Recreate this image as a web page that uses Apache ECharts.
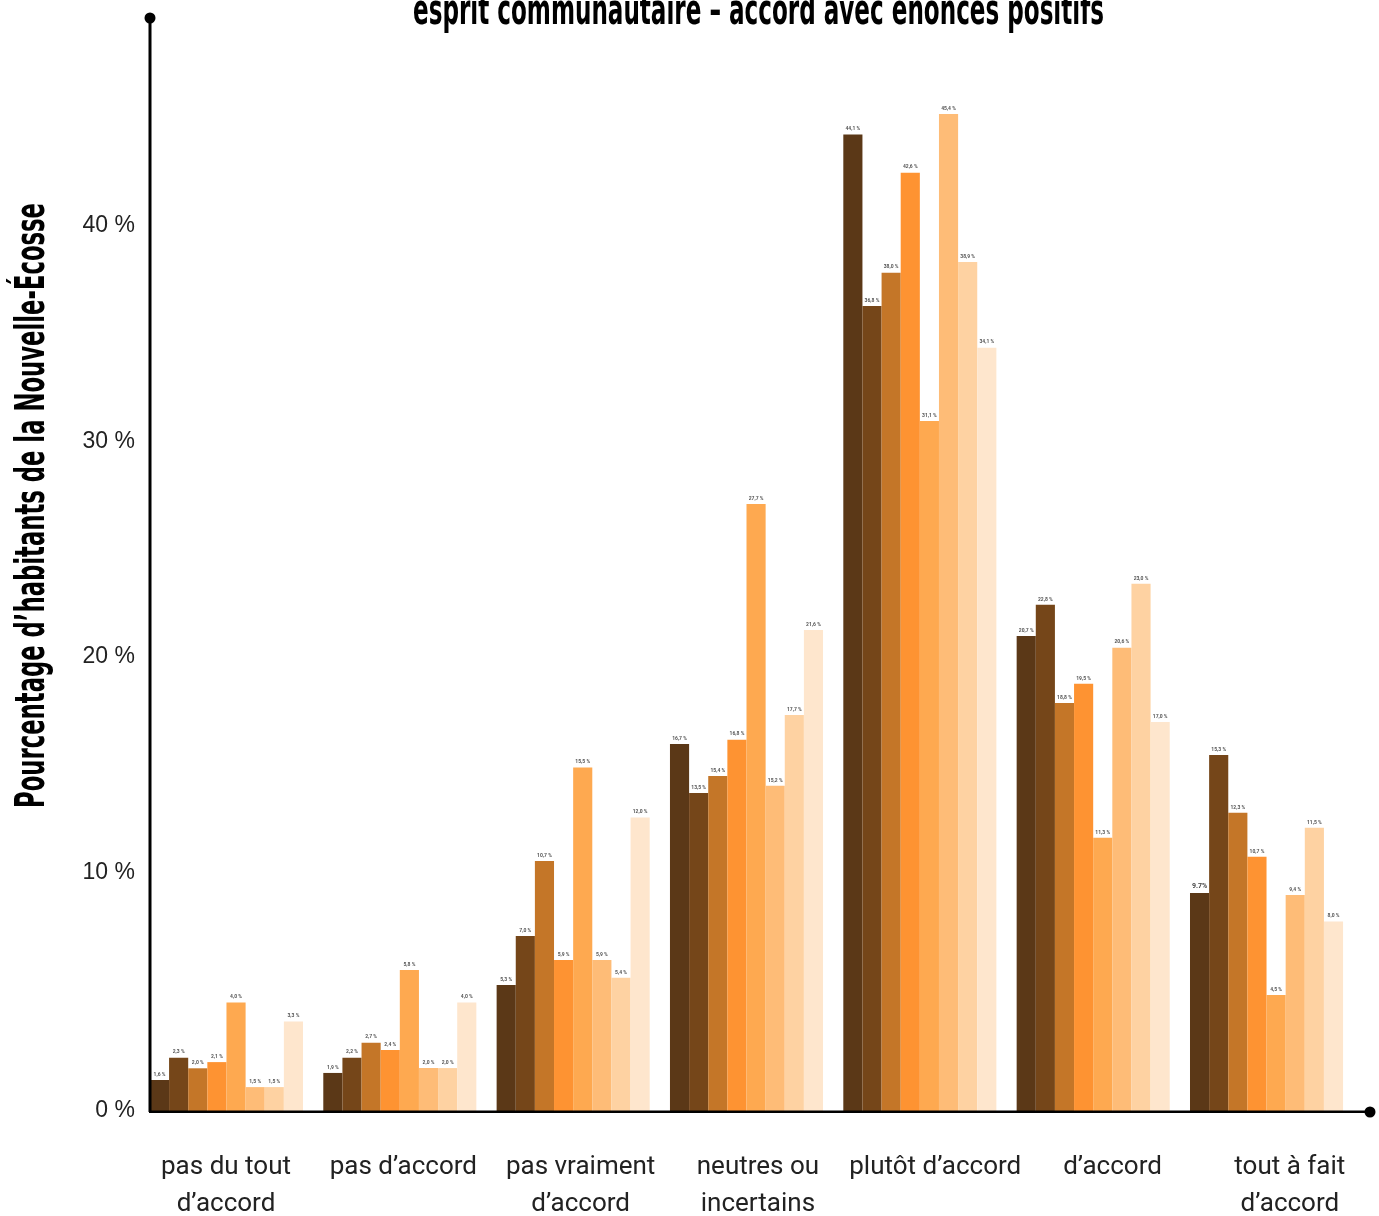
<!DOCTYPE html>
<html><head><meta charset="utf-8">
<script src="https://cdn.jsdelivr.net/npm/echarts@6/dist/echarts.min.js"></script>
<style>html,body{margin:0;padding:0;background:#fff}#c{width:1379px;height:1216px}</style>
</head><body><div id="c"></div>
<script>
// ---------- data ----------
const categories = ['pas du tout\nd’accord', 'pas d’accord', 'pas vraiment\nd’accord', 'neutres ou\nincertains', 'plutôt d’accord', 'd’accord', 'tout à fait\nd’accord'];
const seriesNames = ['Énoncé 1', 'Énoncé 2', 'Énoncé 3', 'Énoncé 4', 'Énoncé 5', 'Énoncé 6', 'Énoncé 7', 'Énoncé 8'];

// bar heights
const s1 = [1.40, 1.72, 5.69, 16.59, 44.13, 21.47, 9.85];
const s2 = [2.41, 2.41, 7.91, 14.37, 36.38, 22.88, 16.09];
const s3 = [1.93, 3.09, 11.30, 15.14, 37.89, 18.44, 13.48];
const s4 = [2.21, 2.76, 6.82, 16.78, 42.41, 19.31, 11.49];
const s5 = [4.90, 6.37, 15.52, 27.44, 31.19, 12.35, 5.24];
const s6 = [1.08, 1.94, 6.82, 14.70, 45.06, 20.94, 9.76];
const s7 = [1.08, 1.94, 6.02, 17.90, 38.37, 23.83, 12.80];
const s8 = [4.04, 4.90, 13.26, 21.74, 34.50, 17.58, 8.56];

// printed value labels
const l1 = ['1,6 %', '1,9 %', '5,3 %', '16,7 %', '44,1 %', '20,7 %', '9.7%'];
const l2 = ['2,3 %', '2,2 %', '7,0 %', '13,5 %', '36,8 %', '22,8 %', '15,3 %'];
const l3 = ['2,0 %', '2,7 %', '10,7 %', '15,4 %', '38,0 %', '18,8 %', '12,3 %'];
const l4 = ['2,1 %', '2,4 %', '5,9 %', '16,8 %', '42,6 %', '19,5 %', '10,7 %'];
const l5 = ['4,0 %', '5,8 %', '15,5 %', '27,7 %', '31,1 %', '11,3 %', '4,5 %'];
const l6 = ['1,5 %', '2,0 %', '5,9 %', '15,2 %', '45,4 %', '20,6 %', '9,4 %'];
const l7 = ['1,5 %', '2,0 %', '5,4 %', '17,7 %', '38,9 %', '23,0 %', '11,5 %'];
const l8 = ['3,3 %', '4,0 %', '12,0 %', '21,6 %', '34,1 %', '17,0 %', '8,0 %'];

const yTickValues = [0, 10, 20, 30, 40];
const yTickLabels = ['0 %', '10 %', '20 %', '30 %', '40 %'];
const titleText = 'esprit communautaire – accord avec énoncés positifs';
const yTitleText = 'Pourcentage d’habitants de la Nouvelle-Écosse';

// ---------- style ----------
const colors = ['#5b3817', '#754619', '#c47628', '#fe9332', '#fea950', '#febc77', '#fed2a2', '#fee6cd'];
const allValues = [s1, s2, s3, s4, s5, s6, s7, s8];
const allLabels = [l1, l2, l3, l4, l5, l6, l7, l8];

function measure(text, font) {
  const ctx = document.createElement('canvas').getContext('2d');
  ctx.font = font;
  return ctx.measureText(text).width;
}
const condFont = '"Liberation Sans Narrow", "DejaVu Sans Condensed", sans-serif';
const titleFont = 'bold 42px ' + condFont;
const titleScale = 691 / measure(titleText, titleFont);
const yTitleFont = 'bold 40px ' + condFont;
const yTitleScale = 605 / measure(yTitleText, yTitleFont);

const tickLabel = v => { const i = yTickValues.indexOf(v); return i >= 0 ? yTickLabels[i] : ''; };

const series = allValues.map((vals, k) => ({
  type: 'bar',
  name: seriesNames[k],
  xAxisIndex: 0, yAxisIndex: 0,
  barGap: '0%',
  barCategoryGap: '11.7%',
  itemStyle: { color: colors[k] },
  data: vals.map((v, i) => {
    const txt = allLabels[k][i];
    const item = { value: v };
    if (txt.indexOf(',') < 0) item.label = { fontSize: 7, color: '#444' };
    return item;
  }),
  label: {
    show: true, position: 'top', distance: 3,
    fontSize: 5, fontWeight: 'bold', color: '#555', fontFamily: 'Roboto',
    formatter: p => allLabels[k][p.dataIndex]
  }
}));

const chart = echarts.init(document.getElementById('c'), null, { renderer: 'canvas' });
chart.setOption({
  animation: false,
  backgroundColor: '#fff',
  grid: [
    { left: 139.8, right: 25.8, top: 4.75, bottom: 105, outerBoundsMode: 'none', containLabel: false },
    { left: 137.35, right: 0.5, top: 226, bottom: 128, outerBoundsMode: 'none', containLabel: false }
  ],
  xAxis: [
    { gridIndex: 0, type: 'category', data: categories,
      axisLine: { show: false }, axisTick: { show: false }, axisLabel: { show: false } },
    { gridIndex: 1, type: 'category', data: categories,
      axisLine: { show: false }, axisTick: { show: false },
      axisLabel: { interval: 0, margin: 60.5, fontSize: 26, lineHeight: 37.5, fontFamily: 'Roboto', color: '#222' } }
  ],
  yAxis: [
    { gridIndex: 0, type: 'value', min: 0, max: 50, interval: 10,
      axisLine: { show: false }, axisTick: { show: false }, splitLine: { show: false },
      axisLabel: { formatter: v => v === 0 ? tickLabel(v) : '', margin: 4.8, fontSize: 23,
        fontFamily: '"Liberation Sans", Arial, sans-serif', color: '#222', padding: [0, 0, 8, 0] } },
    { gridIndex: 1, type: 'value', min: 0, max: 40, interval: 10,
      axisLine: { show: false }, axisTick: { show: false }, splitLine: { show: false },
      axisLabel: { formatter: v => v === 0 ? '' : tickLabel(v), margin: 2.35, fontSize: 23,
        fontFamily: '"Liberation Sans", Arial, sans-serif', color: '#222' } }
  ],
  series: series,
  graphic: [
    { type: 'line', z: 100, shape: { x1: 150, y1: 18, x2: 150, y2: 1112 }, style: { stroke: '#000', lineWidth: 3 } },
    { type: 'line', z: 100, shape: { x1: 149, y1: 1111.7, x2: 1370, y2: 1111.7 }, style: { stroke: '#000', lineWidth: 2.6 } },
    { type: 'circle', z: 101, shape: { cx: 150, cy: 18, r: 5.5 }, style: { fill: '#000' } },
    { type: 'circle', z: 101, shape: { cx: 1370, cy: 1112, r: 5.5 }, style: { fill: '#000' } },
    { type: 'text', z: 100, x: 758.5, y: 13, scaleX: titleScale, scaleY: 1,
      style: { text: titleText, font: titleFont, fill: '#000', align: 'center', verticalAlign: 'middle' } },
    { type: 'text', z: 100, x: 34, y: 505.5, rotation: Math.PI / 2, scaleX: yTitleScale, scaleY: 1,
      style: { text: yTitleText, font: yTitleFont, fill: '#000', align: 'center', verticalAlign: 'middle' } }
  ]
});
</script>
</body></html>
